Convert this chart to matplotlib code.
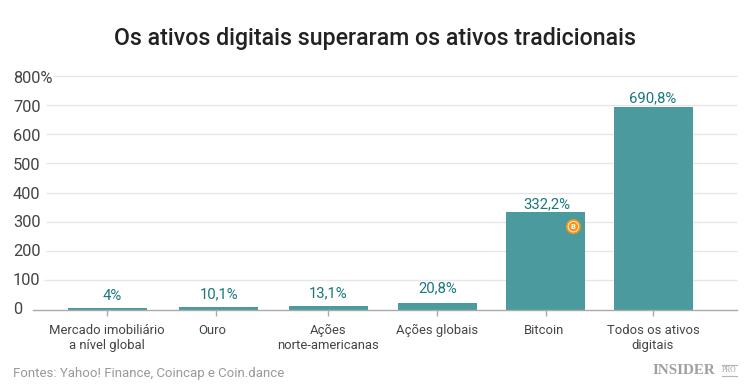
import matplotlib
matplotlib.use("Agg")
import matplotlib.pyplot as plt
from matplotlib.patches import Circle
from matplotlib.lines import Line2D
from matplotlib.transforms import IdentityTransform

categories = ["Mercado imobiliário\na nível global", "Ouro", "Ações\nnorte-americanas",
              "Ações globais", "Bitcoin", "Todos os ativos\ndigitais"]
values = [4, 10.1, 13.1, 20.8, 332.2, 690.8]
labels = ["4%", "10,1%", "13,1%", "20,8%", "332,2%", "690,8%"]
yticks = [0, 100, 200, 300, 400, 500, 600, 700, 800]
ytick_labels = ["0", "100", "200", "300", "400", "500", "600", "700", "800%"]

# layout (pixels)
bar_x = [107.5, 218.7, 328.3, 437.5, 545.5, 653.5]
tick_x = [107, 215.7, 328.3, 437.3, 545.7, 653]
cat_x = [107.3, 212, 328, 437.5, 544.3, 653]
value_x = [112, 218.7, 328, 437.5, 547, 653]
value_gap = [12, 12, 12.8, 15.2, 8.5, 9]
grid_start = [33, 43.5, 46, 46, 46, 46, 46, 46, 53]

W, H = 750, 391
plt.rcParams["font.family"] = ["Roboto", "DejaVu Sans"]
fig = plt.figure(figsize=(W / 100, H / 100), dpi=100, facecolor="white")
x0, x1 = 33, 737
y0, y1 = 309.5, 75.5
ax = fig.add_axes([x0 / W, 1 - y0 / H, (x1 - x0) / W, (y0 - y1) / H])
ax.set_xlim(x0, x1)
ax.set_ylim(0, 800)
ax.patch.set_visible(False)

teal = "#4b9a9e"
ax.bar(bar_x, values, width=79, color=teal, zorder=3)
for x, v, t, g in zip(value_x, values, labels, value_gap):
    ax.annotate(t, (x, v), xytext=(0, g), textcoords="offset pixels", ha="center", va="center",
                fontsize=10.7, color="#17797d", zorder=5, annotation_clip=False)

for s in ["top", "left", "right"]:
    ax.spines[s].set_visible(False)
ax.spines["bottom"].set_color("#aaaaaa")
ax.spines["bottom"].set_linewidth(1)
ax.spines["bottom"].set_zorder(4)
ax.set_yticks([])
ax.hlines(yticks[1:], grid_start[1:], x1, color="#e6e6e6", linewidth=1.0, zorder=0, clip_on=False)
ax.set_xticks(tick_x)
ax.set_xticklabels([])
ax.tick_params(axis="x", length=4.5, width=1, color="#aaaaaa")

for v, t in zip(yticks, ytick_labels):
    ax.annotate(t, (x0, v), xytext=(-20, -3.2 * v / 800), textcoords="offset pixels", ha="left", va="center",
                fontsize=11.8, color="#444444", annotation_clip=False)
for x, c in zip(cat_x, categories):
    ax.annotate(c, (x, 0), xytext=(0, -14), textcoords="offset pixels", ha="center", va="top",
                fontsize=9.4, color="#444444", linespacing=1.25, annotation_clip=False)

# Bitcoin badge
bx, by = 573.4, 226.6
identity = IdentityTransform()
fig.add_artist(Circle((bx, H - by), 7.5, transform=identity, facecolor="#f7931a",
                      edgecolor="none", zorder=6))
fig.add_artist(Circle((bx, H - by), 5.2, transform=identity, facecolor="#f7931a",
                      edgecolor="#fde3c2", linewidth=0.8, zorder=6))
fig.text(bx / W, 1 - by / H, "B", ha="center", va="center", fontsize=5.5, color="white",
         fontweight="bold", zorder=7)

fig.text(374.5 / W, 1 - 38 / H, "Os ativos digitais superaram os ativos tradicionais", ha="center", va="center",
         fontsize=16.7, fontweight="medium", color="#222222")
fig.text(13 / W, 1 - 373 / H, "Fontes: Yahoo! Finance, Coincap e Coin.dance", ha="left", va="center",
         fontsize=9.5, color="#999999")
fig.text(653 / W, 1 - 371 / H, "INSIDER", ha="left", va="center", fontsize=10.9, fontweight="bold",
         family=["Liberation Serif"], color="#a0a0a0")
fig.text(729.5 / W, 1 - 370.5 / H, "PRO", ha="center", va="center", fontsize=5.5,
         family=["Liberation Serif"], color="#a0a0a0")
for ly in (365, 376):
    fig.add_artist(Line2D([722, 737], [H - ly, H - ly], transform=identity, color="#b5b5b5", linewidth=0.8))
fig.savefig("out.png", dpi=100)
